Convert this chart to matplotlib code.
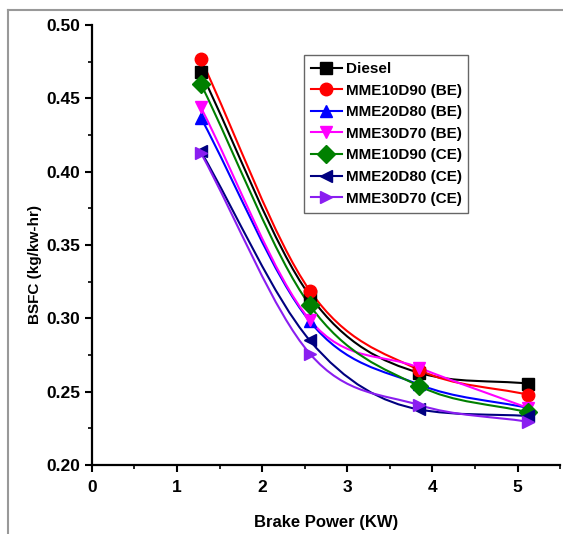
import matplotlib
matplotlib.use('Agg')
import matplotlib.pyplot as plt
from matplotlib.path import Path
from matplotlib.patches import PathPatch
from matplotlib.lines import Line2D
from matplotlib.ticker import MultipleLocator
import numpy as np

plt.rcParams['font.family'] = ['Liberation Sans', 'DejaVu Sans']
plt.rcParams['font.weight'] = 'bold'

# datos
potencia = [1.28, 2.56, 3.84, 5.12]
nombres = ['Diesel', 'MME10D90 (BE)', 'MME20D80 (BE)', 'MME30D70 (BE)',
           'MME10D90 (CE)', 'MME20D80 (CE)', 'MME30D70 (CE)']
diesel = [0.468, 0.3155, 0.263, 0.2556]
mme10_be = [0.477, 0.319, 0.265, 0.248]
mme20_be = [0.437, 0.298, 0.255, 0.239]
mme30_be = [0.444, 0.299, 0.2665, 0.239]
mme10_ce = [0.460, 0.309, 0.254, 0.236]
mme20_ce = [0.414, 0.285, 0.238, 0.2335]
mme30_ce = [0.413, 0.276, 0.241, 0.2296]
series = [diesel, mme10_be, mme20_be, mme30_be, mme10_ce, mme20_ce, mme30_ce]

colores = ['black', 'red', 'blue', '#FF00FF', 'green', '#000080', '#8A1EF0']
marcadores = ['s', 'o', '^', 'v', 'D', '<', '>']


def curva_suave(x, y):
    # segmentos Bezier cubicos (spline tipo Origin) dibujados por matplotlib
    x = np.asarray(x, float)
    y = np.asarray(y, float)
    s = np.diff(y) / np.diff(x)
    m = np.zeros_like(y)
    m[1:-1] = (y[2:] - y[:-2]) / (x[2:] - x[:-2])
    for i in range(1, len(y) - 1):
        lim = 3 * min(abs(s[i - 1]), abs(s[i]))
        if abs(m[i]) > lim:
            m[i] = np.sign(m[i]) * lim
    m[0] = s[0]
    m[-1] = s[-1]
    verts = [(x[0], y[0])]
    codes = [Path.MOVETO]
    for i in range(len(x) - 1):
        h = x[i + 1] - x[i]
        verts += [(x[i] + h / 3, y[i] + m[i] * h / 3),
                  (x[i + 1] - h / 3, y[i + 1] - m[i + 1] * h / 3),
                  (x[i + 1], y[i + 1])]
        codes += [Path.CURVE4] * 3
    return Path(verts, codes)


fig = plt.figure(figsize=(5.63, 5.34), dpi=100)
ax = fig.add_axes([0.163, 0.129, 0.832, 0.824])

handles = []
for y, c, mk, nom in zip(series, colores, marcadores, nombres):
    ax.add_patch(PathPatch(curva_suave(potencia, y), facecolor='none',
                           edgecolor=c, lw=1.5, zorder=2))
    ax.plot(potencia, y, linestyle='none', marker=mk, color=c,
            markersize=9, zorder=3)
    handles.append(Line2D([], [], color=c, marker=mk, lw=1.5, markersize=9))

ax.set_xlim(0, 5.5)
ax.set_ylim(0.20, 0.50)
ax.xaxis.set_major_locator(MultipleLocator(1))
ax.xaxis.set_minor_locator(MultipleLocator(0.5))
ax.yaxis.set_major_locator(MultipleLocator(0.05))
ax.yaxis.set_minor_locator(MultipleLocator(0.025))
ax.yaxis.set_major_formatter(plt.FormatStrFormatter('%.2f'))

for lado in ['top', 'right']:
    ax.spines[lado].set_visible(False)
for lado in ['left', 'bottom']:
    ax.spines[lado].set_linewidth(1.6)
ax.tick_params(which='major', direction='out', length=5, width=1.5,
               labelsize=12.5)
ax.tick_params(axis='x', which='major', pad=6)
ax.tick_params(which='minor', direction='out', length=3, width=1.2)

ax.set_xlabel('Brake Power (KW)', fontsize=12, fontweight='bold', labelpad=14)
ax.set_ylabel('BSFC (kg/kw-hr)', fontsize=11, fontweight='bold')
ax.yaxis.set_label_coords(-0.106, 0.455)

leg = ax.legend(handles, nombres, loc='upper right',
                bbox_to_anchor=(0.804, 0.932), borderaxespad=0,
                fontsize=11, handlelength=2.0, handletextpad=0.25,
                labelspacing=0.5, borderpad=0.45, fancybox=False,
                framealpha=1)
leg.get_frame().set_edgecolor('#666666')
leg.get_frame().set_linewidth(1.0)

# marco gris de la captura
fig.add_artist(Line2D([0.014, 1.0], [0.982, 0.982], color='#999999', lw=1.5))
fig.add_artist(Line2D([0.014, 0.014], [0.0, 0.982], color='#999999', lw=1.5))

fig.savefig('out.png', dpi=100)
